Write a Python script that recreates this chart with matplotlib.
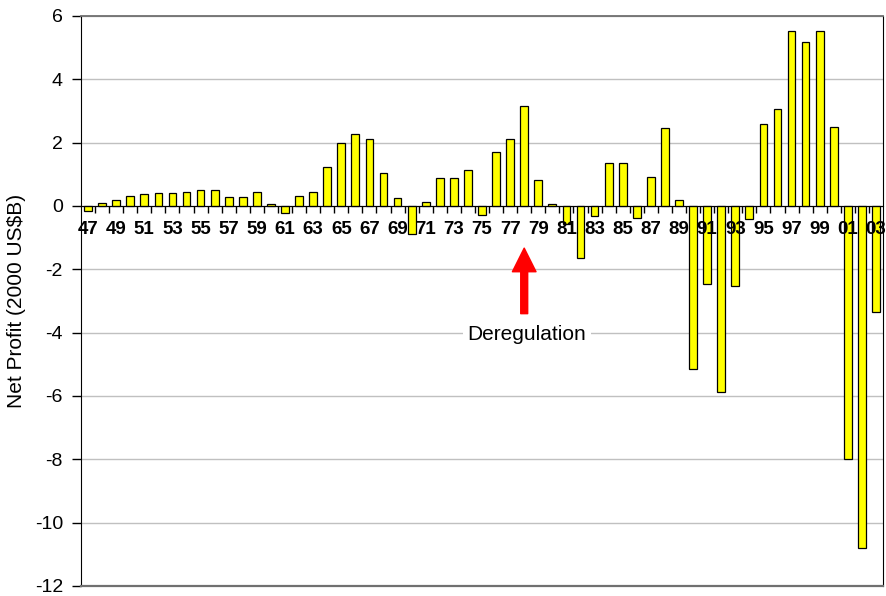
import numpy as np
import matplotlib
matplotlib.use("Agg")
import matplotlib.pyplot as plt

plt.rcParams['font.family'] = ['Liberation Sans', 'DejaVu Sans']
plt.rcParams['axes.unicode_minus'] = False

# Net profit by year, 1947-2003 (2000 US$B)
years = list(range(1947, 2004))
profit = [
    -0.16, 0.10, 0.19, 0.31, 0.38, 0.40, 0.41, 0.43, 0.49, 0.50,   # 47-56
    0.27, 0.30, 0.43, 0.06, -0.23, 0.31, 0.45, 1.24, 2.00, 2.27,   # 57-66
    2.13, 1.04, 0.25, -0.88, 0.12, 0.88, 0.88, 1.13, -0.27, 1.70,  # 67-76
    2.13, 3.16, 0.82, 0.05, -0.57, -1.63, -0.32, 1.37, 1.37, -0.37,  # 77-86
    0.91, 2.45, 0.18, -5.16, -2.45, -5.86, -2.54, -0.40, 2.60, 3.06,  # 87-96
    5.53, 5.17, 5.53, 2.49, -8.00, -10.79, -3.35,                  # 97-03
]
year_labels = [f"{y % 100:02d}" for y in years]
dereg_year = 1978

fig = plt.figure(figsize=(8.86, 5.96), dpi=100)
ax = fig.add_axes([81 / 886, 10 / 596, 802 / 886, 570 / 596])

x = np.arange(len(years))
ax.bar(x, profit, width=0.55, color='#FFFF00', edgecolor='black', linewidth=0.9, zorder=3)

ax.set_xlim(-0.5, len(years) - 0.5)
ax.set_ylim(-12, 6)
ax.set_yticks(np.arange(-12, 7, 2))
ax.yaxis.grid(True, color='#c0c0c0', linewidth=1)
ax.set_axisbelow(True)

# category axis sits on the zero line, labels drawn over the bars
ax.spines['bottom'].set_position(('data', 0))
ax.spines['bottom'].set_color('black')
ax.spines['bottom'].set_zorder(4)
ax.set_xticks(x[::2])
ax.set_xticklabels(year_labels[::2], fontsize=13.5, fontweight='bold')
ax.set_xticks(x[:-1] + 0.5, minor=True)
ax.tick_params(axis='x', which='major', length=0, pad=11)
ax.tick_params(axis='x', which='minor', length=5, width=1, direction='out')
ax.xaxis.set_zorder(5)

ax.tick_params(axis='y', length=6.5, width=1, labelsize=14, pad=6.5)
ax.set_ylabel("Net Profit (2000 US$B)", fontsize=15, labelpad=6)

ax.spines['left'].set_color('black')
ax.spines['right'].set_color('black')
ax.spines['top'].set_color('#707070')
ax.spines['top'].set_linewidth(1.3)
ax.axhline(-12, color='#707070', linewidth=1.6, clip_on=False, zorder=5)

# deregulation marker
i = years.index(dereg_year)
ax.annotate('', xy=(i, -1.33), xytext=(i, -3.4),
            arrowprops=dict(facecolor='red', edgecolor='red', width=5,
                            headwidth=17, headlength=17), zorder=6)
ax.text(i + 0.2, -4.05, "Deregulation", fontsize=15, ha='center', va='center',
        bbox=dict(facecolor='white', edgecolor='none', pad=3), zorder=6)

fig.savefig("out.png", dpi=100)
